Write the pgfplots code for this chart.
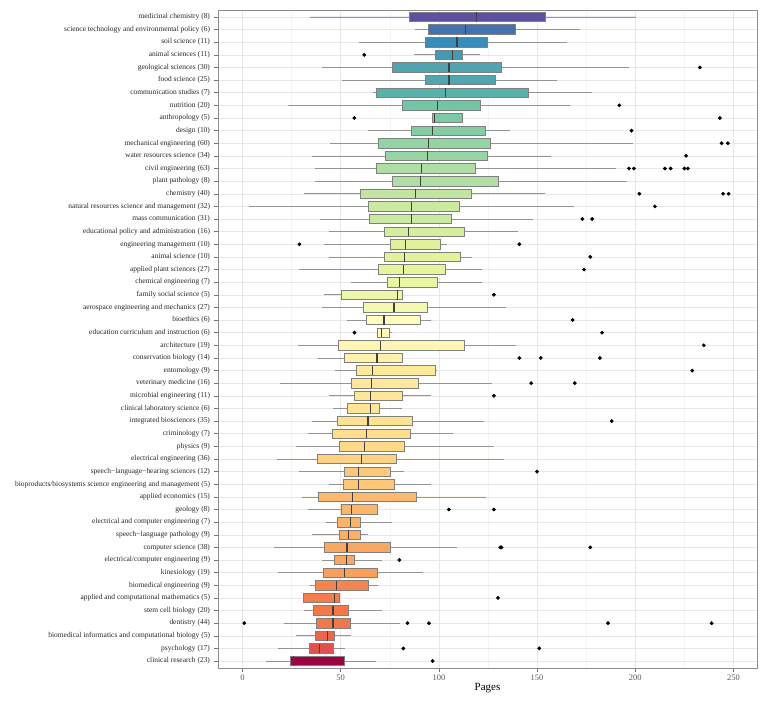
\documentclass[border=0pt]{standalone}
\usepackage{pgfplots}
\pgfplotsset{compat=1.18}
\usepgfplotslibrary{statistics}
\usepackage{fontspec}
\setmainfont{Liberation Serif}
\definecolor{S0}{RGB}{158,1,66}
\definecolor{S1}{RGB}{213,62,79}
\definecolor{S2}{RGB}{244,109,67}
\definecolor{S3}{RGB}{253,174,97}
\definecolor{S4}{RGB}{254,224,139}
\definecolor{S5}{RGB}{255,255,191}
\definecolor{S6}{RGB}{230,245,152}
\definecolor{S7}{RGB}{171,221,164}
\definecolor{S8}{RGB}{102,194,165}
\definecolor{S9}{RGB}{50,136,189}
\definecolor{S10}{RGB}{94,79,162}
\definecolor{S11}{RGB}{94,79,162}
% #1 position, #2 lower whisker, #3 q1, #4 median, #5 q3, #6 upper whisker, #7 outlier coordinates
% fill colour follows the median on the Spectral ramp (26.1 .. 119.2)
\newcommand\bx[7]{%
  \pgfmathsetmacro\bxs{max(0,min(10,(#4-26.1)*10/93.1))}%
  \pgfmathtruncatemacro\bxk{floor(\bxs)}%
  \pgfmathtruncatemacro\bxkk{\bxk+1}%
  \pgfmathtruncatemacro\bxf{round((\bxs-\bxk)*100)}%
  \edef\bxdoit{\noexpand\addplot[boxfmt, fill=S\bxkk!\bxf!S\bxk,
    boxplot prepared={draw position=#1, lower whisker=#2, lower quartile=#3,
      median=#4, upper quartile=#5, upper whisker=#6}] coordinates {#7};}%
  \bxdoit
}
\begin{document}
\begin{tikzpicture}
\path[use as bounding box] (-218bp,-33bp) rectangle (550bp,668bp);
\begin{axis}[
  at={(0,0)}, anchor=south west,
  scale only axis, width=539bp, height=658bp,
  xmin=-12.5, xmax=262, ymin=0.45, ymax=52.55,
  xtick={0,50,...,250}, minor xtick={25,75,...,225},
  ytick={1,...,52},
  yticklabels={
    clinical research (23),
    psychology (17),
    biomedical informatics and computational biology (5),
    dentistry (44),
    stem cell biology (20),
    applied and computational mathematics (5),
    biomedical engineering (9),
    kinesiology (19),
    electrical/computer engineering (9),
    computer science (38),
    speech−language pathology (9),
    electrical and computer engineering (7),
    geology (8),
    applied economics (15),
    bioproducts/biosystems science engineering and management (5),
    speech−language−hearing sciences (12),
    electrical engineering (36),
    physics (9),
    criminology (7),
    integrated biosciences (35),
    clinical laboratory science (6),
    microbial engineering (11),
    veterinary medicine (16),
    entomology (9),
    conservation biology (14),
    architecture (19),
    education curriculum and instruction (6),
    bioethics (6),
    aerospace engineering and mechanics (27),
    family social science (5),
    chemical engineering (7),
    applied plant sciences (27),
    animal science (10),
    engineering management (10),
    educational policy and administration (16),
    mass communication (31),
    natural resources science and management (32),
    chemistry (40),
    plant pathology (8),
    civil engineering (63),
    water resources science (34),
    mechanical engineering (60),
    design (10),
    anthropology (5),
    nutrition (20),
    communication studies (7),
    food science (25),
    geological sciences (30),
    animal sciences (11),
    soil science (11),
    science technology and environmental policy (6),
    medicinal chemistry (8)},
  yticklabel style={font=\fontsize{7.5}{8}\selectfont, text=black!85, xshift=-1bp},
  xticklabel style={font=\fontsize{8.5}{9}\selectfont, text=black!65},
  /pgf/number format/assume math mode=true,
  xlabel={Pages},
  xlabel style={font=\fontsize{11}{12}\selectfont, yshift=4bp},
  xmajorgrids, xminorgrids, ymajorgrids,
  major grid style={black!9, line width=0.5bp},
  minor grid style={black!4, line width=0.5bp},
  axis line style={black!45, line width=0.5bp},
  tick pos=left, tick align=outside,
  major tick length=3.5bp, minor tick length=0pt,
  tick style={black!55, line width=0.5bp},
  boxplot/draw direction=x,
  boxplot/box extend=0.75,
  boxplot/whisker extend=0,
  boxplot/every box/.style={draw=black!50, line width=0.7bp},
  boxplot/every whisker/.style={draw=black!42, line width=0.7bp},
  boxplot/every median/.style={draw=black!75, line width=1.2bp},
  boxfmt/.style={mark=*, mark size=1.7bp, mark options={draw=black, fill=black, solid}},
]
\bx{1}{12.1}{24.1}{26.1}{52.1}{68.0}{(0,96.8)}
\bx{2}{18.1}{34.0}{39.1}{46.3}{52.1}{(0,81.9) (0,151.1)}
\bx{3}{27.1}{37.0}{43.1}{47.0}{55.3}{}
\bx{4}{21.1}{37.5}{46.1}{54.9}{80.1}{(0,0.9) (0,84.0) (0,94.9) (0,186.1) (0,238.9)}
\bx{5}{31.2}{35.9}{46.1}{54.0}{71.1}{}
\bx{6}{31.0}{31.0}{47.0}{49.1}{49.1}{(0,130.1)}
\bx{7}{34.2}{37.0}{47.9}{64.1}{69.0}{}
\bx{8}{18.1}{41.2}{52.1}{68.5}{92.1}{}
\bx{9}{40.3}{47.0}{53.0}{57.0}{71.1}{(0,79.9)}
\bx{10}{16.2}{41.9}{53.2}{75.2}{109.0}{(0,131.2) (0,131.9) (0,177.1)}
\bx{11}{35.2}{49.1}{54.0}{60.0}{63.9}{}
\bx{12}{42.3}{48.1}{55.1}{60.0}{76.1}{}
\bx{13}{33.1}{50.2}{55.6}{68.8}{68.8}{(0,105.1) (0,128.0)}
\bx{14}{30.3}{38.6}{56.2}{88.7}{124.1}{}
\bx{15}{44.2}{51.1}{59.0}{77.1}{96.0}{}
\bx{16}{29.0}{52.1}{59.0}{75.4}{82.2}{(0,150.0)}
\bx{17}{17.3}{38.2}{60.7}{78.2}{132.9}{}
\bx{18}{27.1}{49.1}{62.1}{82.2}{128.0}{}
\bx{19}{33.1}{45.6}{63.0}{85.7}{107.0}{}
\bx{20}{35.2}{48.1}{63.9}{86.6}{122.9}{(0,188.0)}
\bx{21}{46.3}{53.2}{65.1}{69.5}{81.2}{}
\bx{22}{44.2}{56.7}{65.1}{81.2}{96.1}{(0,128.0)}
\bx{23}{19.2}{55.6}{65.7}{89.3}{126.9}{(0,147.0) (0,169.2)}
\bx{24}{47.2}{58.1}{66.2}{98.1}{99.1}{(0,229.0)}
\bx{25}{38.2}{52.1}{68.5}{81.2}{81.2}{(0,141.0) (0,151.9) (0,182.0)}
\bx{26}{28.2}{48.6}{70.1}{113.0}{139.1}{(0,234.9)}
\bx{27}{68.5}{68.5}{70.6}{74.8}{76.1}{(0,57.0) (0,183.1)}
\bx{28}{53.0}{63.2}{72.0}{90.7}{96.1}{(0,168.1)}
\bx{29}{40.3}{61.4}{77.1}{94.2}{134.2}{}
\bx{30}{41.4}{50.2}{79.0}{81.2}{81.2}{(0,128.0)}
\bx{31}{55.3}{73.6}{80.1}{99.1}{122.0}{}
\bx{32}{29.0}{69.4}{82.0}{103.2}{122.0}{(0,173.9)}
\bx{33}{44.2}{72.4}{82.6}{111.1}{117.1}{(0,177.1)}
\bx{34}{41.4}{75.2}{83.1}{100.7}{103.9}{(0,29.0) (0,141.0)}
\bx{35}{44.2}{72.0}{84.7}{113.2}{140.3}{}
\bx{36}{39.3}{64.6}{86.1}{106.2}{147.9}{(0,173.1) (0,178.0)}
\bx{37}{3.2}{63.9}{86.1}{110.6}{169.0}{(0,210.0)}
\bx{38}{31.3}{59.9}{88.0}{116.5}{154.0}{(0,202.1) (0,244.7) (0,247.5)}
\bx{39}{37.1}{76.1}{90.5}{130.1}{196.0}{}
\bx{40}{37.1}{68.1}{91.0}{118.5}{190.0}{(0,196.8) (0,199.3) (0,215.1) (0,218.0) (0,225.0) (0,226.8)}
\bx{41}{35.2}{72.7}{94.0}{124.6}{157.0}{(0,225.9)}
\bx{42}{44.4}{69.4}{94.5}{126.4}{198.9}{(0,244.0) (0,247.2)}
\bx{43}{64.1}{86.1}{96.7}{123.8}{136.1}{(0,198.1)}
\bx{44}{96.8}{96.8}{97.9}{112.1}{112.1}{(0,56.9) (0,243.1)}
\bx{45}{23.2}{81.2}{99.1}{121.3}{166.9}{(0,191.9)}
\bx{46}{66.5}{68.1}{103.2}{145.6}{178.0}{}
\bx{47}{50.4}{93.1}{105.1}{129.0}{159.9}{}
\bx{48}{40.3}{76.1}{105.1}{131.7}{196.8}{(0,232.9)}
\bx{49}{87.1}{98.1}{107.0}{112.1}{121.0}{(0,62.0)}
\bx{50}{59.2}{93.1}{109.2}{124.6}{165.0}{}
\bx{51}{88.0}{94.4}{113.7}{138.9}{172.0}{}
\bx{52}{34.3}{85.0}{119.2}{154.2}{200.2}{}
\end{axis}
\end{tikzpicture}
\end{document}
